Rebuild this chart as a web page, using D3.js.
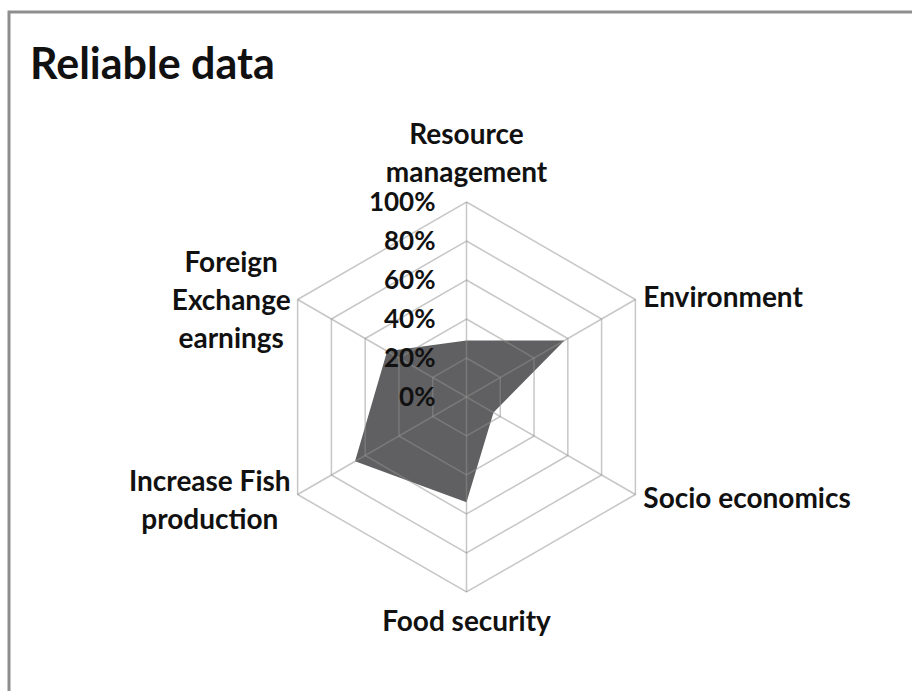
<!DOCTYPE html>
<html>
<head>
<meta charset="utf-8">
<script src="https://cdn.jsdelivr.net/npm/d3@7"></script>
<style>
  body { margin: 0; background: #fff; }
  text { font-family: Lato, "Open Sans", sans-serif; font-weight: bold; fill: #111; }
</style>
</head>
<body>
<div id="chart"></div>
<script>
// radar chart "Reliable data"
var width = 912,
    height = 691;

var categories = [
  ["Resource", "management"],
  ["Environment"],
  ["Socio economics"],
  ["Food security"],
  ["Increase Fish", "production"],
  ["Foreign", "Exchange", "earnings"]
];
var values = [0.29, 0.58, 0.16, 0.54, 0.66, 0.47];
var ticks = [0, 0.2, 0.4, 0.6, 0.8, 1];
var tickLabels = ["0%", "20%", "40%", "60%", "80%", "100%"];

var cx = 466.5, cy = 397;

var r = d3.scaleLinear().domain([0, 1]).range([0, 195]);
var angle = d3.scaleLinear().domain([0, categories.length]).range([0, 2 * Math.PI]);

var svg = d3.select("#chart").append("svg")
    .attr("width", width)
    .attr("height", height);

// frame
svg.append("rect")
    .attr("x", 9).attr("y", 12)
    .attr("width", 940).attr("height", 720)
    .attr("fill", "none")
    .attr("stroke", "#8e8e8e")
    .attr("stroke-width", 3);

svg.append("text")
    .attr("x", 30).attr("y", 79)
    .style("font-size", "43px")
    .text("Reliable data");

var g = svg.append("g").attr("transform", "translate(" + cx + "," + cy + ")");

function pt(i, v) {
  var a = angle(i);
  return [Math.sin(a) * r(v), -Math.cos(a) * r(v)];
}

var radial = d3.lineRadial()
    .angle(function(d, i) { return angle(i); })
    .radius(function(d) { return r(d); })
    .curve(d3.curveLinearClosed);

// data area
g.append("path")
    .datum(values)
    .attr("d", radial)
    .attr("fill", "#606062");

// grid on top, half transparent
var grid = g.append("g")
    .attr("stroke", "#8f8f8f")
    .attr("stroke-opacity", 0.5)
    .attr("stroke-width", 1.5)
    .attr("fill", "none");

grid.selectAll(".ring")
    .data(ticks.slice(1))
    .enter().append("path")
    .attr("class", "ring")
    .attr("d", function(t) { return radial(categories.map(function() { return t; })); });

grid.selectAll(".spoke")
    .data(categories)
    .enter().append("line")
    .attr("class", "spoke")
    .attr("x1", 0).attr("y1", 0)
    .attr("x2", function(d, i) { return pt(i, 1)[0]; })
    .attr("y2", function(d, i) { return pt(i, 1)[1]; });

// percent labels
g.selectAll(".tick")
    .data(ticks)
    .enter().append("text")
    .attr("class", "tick")
    .attr("x", -31)
    .attr("y", function(t) { return -r(t); })
    .attr("dy", "0.36em")
    .attr("text-anchor", "end")
    .style("font-size", "26px")
    .text(function(t, i) { return tickLabels[i]; });

// category labels
var lineH = 38;
categories.forEach(function(lines, i) {
  var p = pt(i, 1);
  var t = g.append("text").style("font-size", "28px");
  lines.forEach(function(s, k) {
    t.append("tspan").text(s);
  });
  var spans = t.selectAll("tspan");
  var maxW = d3.max(spans.nodes(), function(n) { return n.getComputedTextLength(); });
  var n = lines.length;
  var x, y0, anchor = "middle";
  if (i == 0) { x = p[0]; y0 = p[1] - 30 - (n - 1) * lineH; }
  else if (i == 3) { x = p[0]; y0 = p[1] + 29; }
  else if (i == 1 || i == 2) { x = p[0] + 8; y0 = p[1] + (i == 1 ? -3 : 3); anchor = "start"; }
  else { x = p[0] - 7 - maxW / 2; y0 = p[1] + (i == 4 ? 5 : 0) - (n - 1) * lineH / 2; }
  t.attr("text-anchor", anchor);
  spans.attr("x", x)
      .attr("y", function(d, k) { return y0 + k * lineH; })
      .attr("dy", "0.36em");
});
</script>
</body>
</html>
